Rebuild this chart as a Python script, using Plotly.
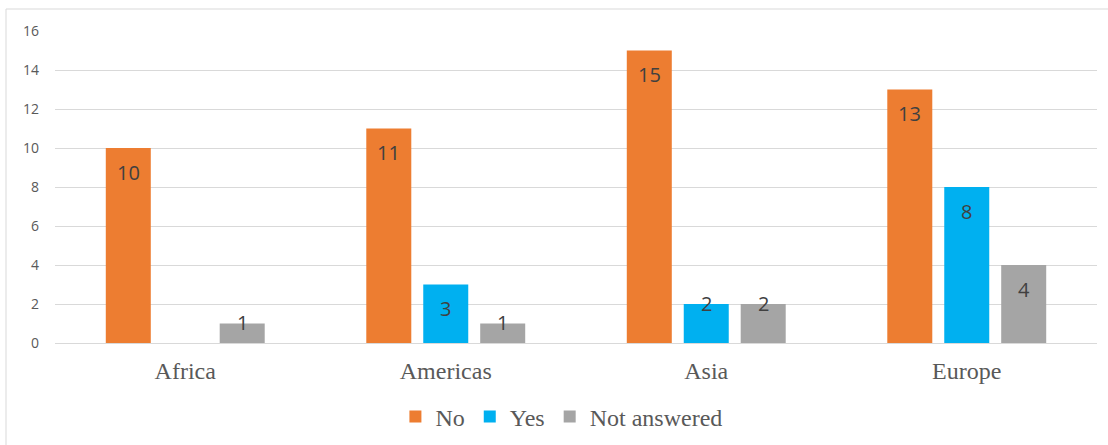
import plotly.graph_objects as go

categories = ["Africa", "Americas", "Asia", "Europe"]
series_names = ["No", "Yes", "Not answered"]
no_values = [10, 11, 15, 13]
yes_values = [0, 3, 2, 8]
na_values = [1, 1, 2, 4]
y_ticks = [0, 2, 4, 6, 8, 10, 12, 14, 16]

colors = ["#ED7D31", "#00B0F0", "#A5A5A5"]
all_values = [no_values, yes_values, na_values]

W, H = 1108, 445
ml, mr, mt, mb = 55, 11, 31, 102
plot_w = W - ml - mr
plot_h = H - mt - mb
ymax = 16
bargap = 0.344
slot_px = plot_w / len(categories) * (1 - bargap) / 3
px_per_unit = plot_h / ymax
SERIF = "Liberation Serif, Times New Roman, serif"

fig = go.Figure()
for name, vals, col in zip(series_names, all_values, colors):
    fig.add_trace(go.Bar(x=categories, y=vals, name=name, marker_color=col,
                         marker_line_width=0))

annotations = []
for i, vals in enumerate(all_values):
    for cat, v in zip(categories, vals):
        if v <= 0:
            continue
        hpx = v * px_per_unit
        annotations.append(dict(
            x=cat, y=v, xref="x", yref="y", text=str(v), showarrow=False,
            xshift=(i - 1) * slot_px, yshift=(-24 if hpx >= 40 else 1),
            yanchor="middle", xanchor="center",
            font=dict(family="Open Sans", size=20, color="#404040")))

fig.update_layout(
    width=W, height=H,
    margin=dict(l=ml, r=mr, t=mt, b=mb, autoexpand=False),
    paper_bgcolor="white", plot_bgcolor="white",
    font=dict(family=SERIF, color="#595959"),
    barmode="group", bargap=bargap, bargroupgap=0.21,
    showlegend=True,
    legend=dict(orientation="h", x=0.486, xanchor="center",
                yref="container", y=(H - 417) / H, yanchor="middle",
                font=dict(family=SERIF, size=24, color="#595959"),
                itemwidth=30, traceorder="normal"),
    annotations=annotations,
    shapes=[
        dict(type="line", xref="paper", yref="paper",
             x0=(6 - ml) / plot_w, x1=1.1, y0=1 + (mt - 9) / plot_h,
             y1=1 + (mt - 9) / plot_h, line=dict(color="#D9D9D9", width=1)),
        dict(type="line", xref="paper", yref="paper",
             x0=(6 - ml) / plot_w, x1=(6 - ml) / plot_w, y0=-0.5,
             y1=1 + (mt - 9) / plot_h, line=dict(color="#D9D9D9", width=1)),
    ],
)
fig.update_xaxes(showgrid=False, showline=False, ticks="", automargin=False,
                 tickfont=dict(family=SERIF, size=24, color="#595959"),
                 ticklabelstandoff=11)
fig.update_yaxes(range=[0, ymax], tickvals=y_ticks, showgrid=True,
                 gridcolor="#D9D9D9", gridwidth=1, zeroline=True,
                 zerolinecolor="#D9D9D9", zerolinewidth=1, showline=False,
                 ticks="", ticklabelstandoff=15, automargin=False,
                 tickfont=dict(family="Open Sans", size=14, color="#595959"))

fig.write_html("out.html")
